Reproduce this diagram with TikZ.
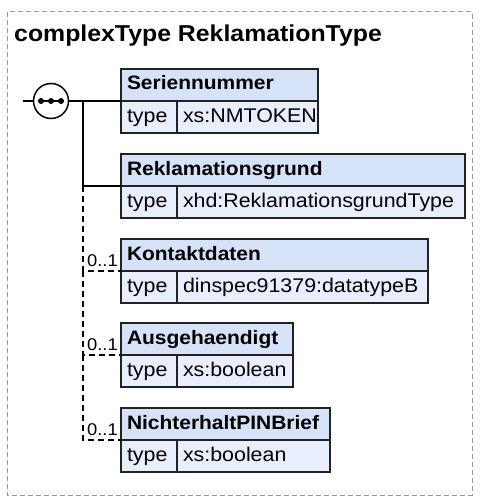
\documentclass[tikz,border=0pt]{standalone}
\usepackage{fontspec}
\setmainfont[FakeStretch=1.08]{Liberation Sans}
\usetikzlibrary{calc}
\definecolor{hdrfill}{HTML}{D6E2F7}
\definecolor{bodyfill}{HTML}{E8EEFB}
\definecolor{bord}{HTML}{222222}
\definecolor{framecol}{HTML}{9A9A9A}
\tikzset{
  hdr/.style={draw=bord, line width=1.6pt, fill=hdrfill, minimum height=32pt,
    inner xsep=6pt, inner ysep=0pt, outer sep=0pt, text height=14pt, text depth=4pt,
    font=\fontsize{19.4}{22}\selectfont\bfseries, align=left, anchor=north west},
  cell/.style={draw=bord, line width=1.6pt, fill=bodyfill, minimum height=32pt,
    inner xsep=6pt, inner ysep=0pt, outer sep=0pt, text height=14pt, text depth=4pt,
    font=\fontsize{19.8}{22}\selectfont, align=left, anchor=north west},
  conn/.style={line width=1.5pt, black},
  opt/.style={conn, dash pattern=on 6pt off 4pt},
  mult/.style={font=\fontsize{17}{18}\selectfont, inner sep=0pt, anchor=base east},
  dotnode/.style={circle, fill=black, inner sep=0pt, minimum size=6pt},
  framebox/.style={draw=framecol, line width=1pt, dash pattern=on 5pt off 3pt},
  titlefont/.style={font=\fontsize{23}{26}\selectfont\bfseries, inner sep=0pt, anchor=base west},
}
\newcommand{\xelem}[5]{%
  \pgfmathsetmacro{\hw}{#3-12}%
  \pgfmathsetmacro{\vw}{#3-56}%
  \pgfmathsetmacro{\vtw}{#3-68}%
  \node[hdr, minimum width=#3pt, text width=\hw pt] (#1) at (121,#2) {#4};
  \node[cell, minimum width=56pt, text width=44pt] (#1t) at (#1.south west) {type};
  \node[cell, minimum width=\vw pt, text width=\vtw pt] (#1v) at (#1t.north east) {#5};
}
\begin{document}
\begin{tikzpicture}[x=1pt, y=-1pt]
  \useasboundingbox (0,0) rectangle (480,500);
  \draw[framebox] (7,12) rectangle (472,495);
  \node[titlefont] (title) at (14,42) {complexType ReklamationType};

  % elements
  \xelem{s}{69}{197}{Seriennummer}{xs:NMTOKEN}
  \xelem{r}{154}{344}{Reklamationsgrund}{xhd:ReklamationsgrundType}
  \xelem{k}{239}{307}{Kontaktdaten}{dinspec91379:datatypeB}
  \xelem{a}{323}{172}{Ausgehaendigt}{xs:boolean}
  \xelem{n}{408}{209}{NichterhaltPINBrief}{xs:boolean}

  % sequence compositor
  \coordinate (in) at (23,101);
  \node[circle, draw=black, line width=1.5pt, fill=white, minimum size=35pt, inner sep=0pt] (seq) at (51,101) {};
  \draw[conn] (in) -- (seq.west);
  \draw[line width=1.3pt] (38,101) -- (64,101);
  \node[dotnode] (d1) at (41,101) {};
  \node[dotnode] (d2) at (51,101) {};
  \node[dotnode] (d3) at (61,101) {};
  \coordinate (jx) at (83,101);

  % connectors
  \draw[conn] (seq.east) -- (s.south west);
  \draw[conn] (jx) |- (r.south west);
  \draw[opt] (jx |- r.south west) |- (k.south west);
  \draw[opt] (jx |- k.south west) |- (a.south west);
  \draw[opt] (jx |- a.south west) |- (n.south west);

  % multiplicities
  \node[mult] (mk) at ($(k.south west)+(-3,-5)$) {0..1};
  \node[mult] (ma) at ($(a.south west)+(-3,-5)$) {0..1};
  \node[mult] (mn) at ($(n.south west)+(-3,-5)$) {0..1};
\end{tikzpicture}
\end{document}
